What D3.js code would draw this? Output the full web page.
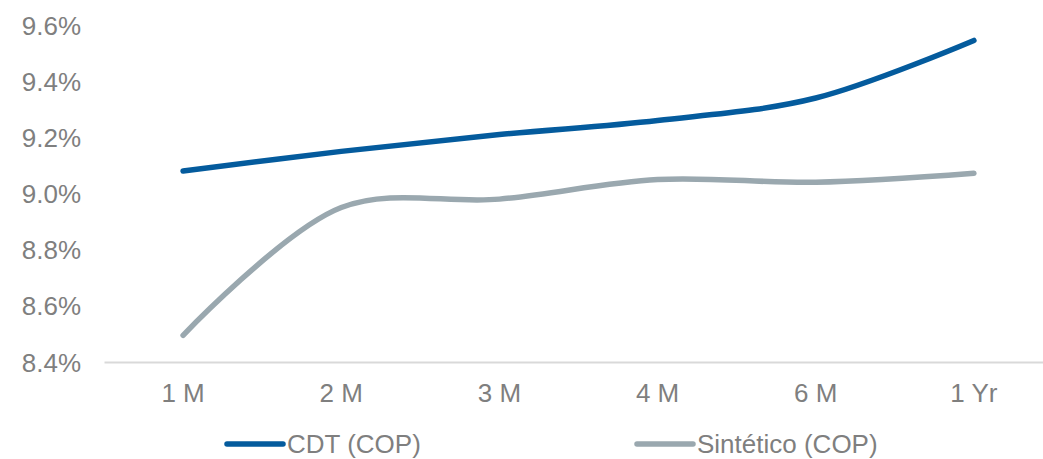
<!DOCTYPE html>
<html>
<head>
<meta charset="utf-8">
<script src="https://cdn.jsdelivr.net/npm/d3@7"></script>
<style>
  body { margin: 0; background: #fff; }
  text { font-family: "Liberation Sans", Arial, sans-serif; fill: #7f7f7f; }
</style>
</head>
<body>
<div id="chart"></div>
<script>
// Tenors and yields (%)
var tenors = ["1 M", "2 M", "3 M", "4 M", "6 M", "1 Yr"];
var cdtValues = [9.08, 9.15, 9.21, 9.26, 9.34, 9.545];
var sinteticoValues = [8.495, 8.95, 8.98, 9.05, 9.04, 9.072];
var yTicks = [8.4, 8.6, 8.8, 9.0, 9.2, 9.4, 9.6];
var seriesNames = ["CDT (COP)", "Sintético (COP)"];

var w = 1043, h = 459;
var plotLeft = 104, plotRight = 1053, plotTop = 25, plotBottom = 362;

var svg = d3.select("#chart").append("svg")
    .attr("width", w)
    .attr("height", h);

// x: band scale, points sit at band centres
var x = d3.scaleBand().domain(tenors).range([plotLeft, plotRight]);
var y = d3.scaleLinear().domain([8.4, 9.6]).range([plotBottom, plotTop]);

// y axis labels (no axis line)
var yAxis = d3.axisLeft(y).tickValues(yTicks)
    .tickFormat(d => d.toFixed(1) + "%")
    .tickSize(0).tickPadding(0);
svg.append("g")
    .attr("transform", "translate(81,0)")
    .call(yAxis)
    .call(g => g.select(".domain").remove())
    .selectAll("text")
    .style("font-size", "26px")
    .attr("fill", "#7f7f7f")
    .attr("dy", "0.35em");

// x axis: light baseline + labels
var xAxis = d3.axisBottom(x).tickSize(0).tickPadding(22);
svg.append("g")
    .attr("transform", "translate(0," + plotBottom + ")")
    .call(xAxis)
    .call(g => g.select(".domain").attr("stroke", "#d9d9d9").attr("stroke-width", 2))
    .selectAll("text")
    .style("font-size", "26px")
    .attr("fill", "#7f7f7f")
    .attr("dy", "0.71em");

var line = d3.line()
    .x((d, i) => x(tenors[i]) + x.bandwidth() / 2)
    .y(d => y(d))
    .curve(d3.curveCatmullRom.alpha(0.5));

var colors = ["#045b9d", "#9aa8af"];
[cdtValues, sinteticoValues].forEach(function (vals, k) {
  svg.append("path")
      .datum(vals)
      .attr("fill", "none")
      .attr("stroke", colors[k])
      .attr("stroke-width", 5.5)
      .attr("stroke-linecap", "round")
      .attr("d", line);
});

// legend
var legendX = [227, 637];
seriesNames.forEach(function (name, k) {
  var g = svg.append("g").attr("transform", "translate(" + legendX[k] + ",444)");
  g.append("line")
      .attr("x1", 0).attr("x2", 56)
      .attr("stroke", colors[k])
      .attr("stroke-width", 5.5)
      .attr("stroke-linecap", "round");
  g.append("text")
      .attr("x", 60)
      .attr("dy", "0.35em")
      .style("font-size", "26px")
      .text(name);
});
</script>
</body>
</html>
